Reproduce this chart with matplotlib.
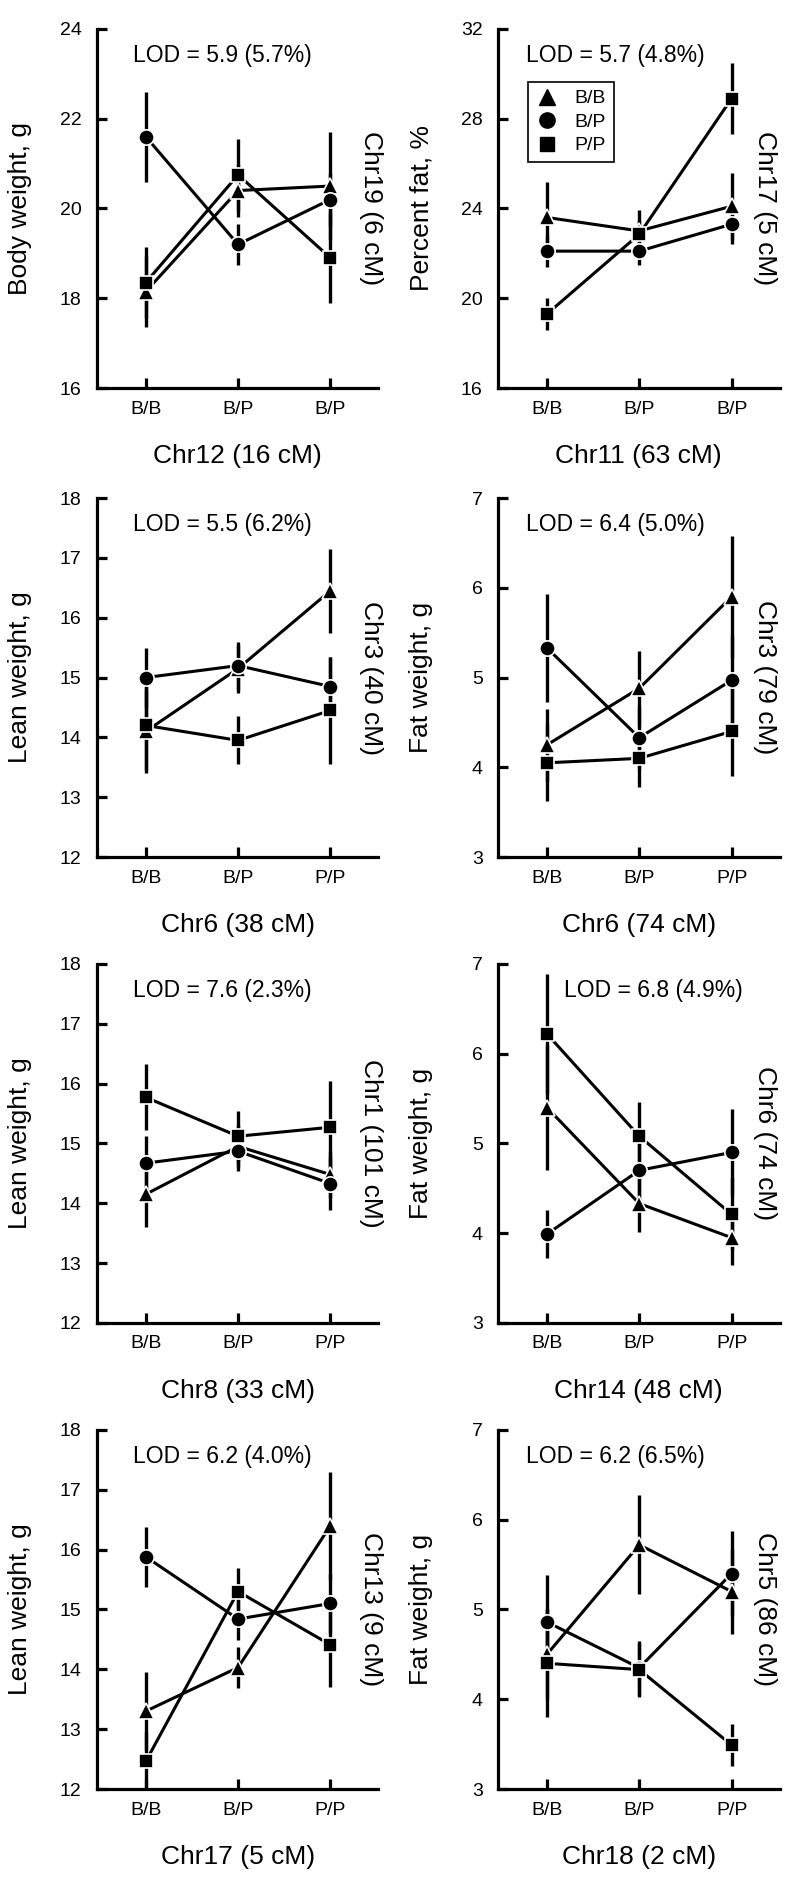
import matplotlib
matplotlib.use("Agg")
import matplotlib.pyplot as plt
from matplotlib.lines import Line2D

plt.rcParams['font.family'] = ['Liberation Sans', 'DejaVu Sans']

# genotype positions on the x axis
genotypes = [0, 1, 2]

# one entry per panel (left to right, top to bottom)
ylabels = ['Body weight, g', 'Percent fat, %', 'Lean weight, g', 'Fat weight, g',
           'Lean weight, g', 'Fat weight, g', 'Lean weight, g', 'Fat weight, g']
xlabels = ['Chr12 (16 cM)', 'Chr11 (63 cM)', 'Chr6 (38 cM)', 'Chr6 (74 cM)',
           'Chr8 (33 cM)', 'Chr14 (48 cM)', 'Chr17 (5 cM)', 'Chr18 (2 cM)']
right_labels = ['Chr19 (6 cM)', 'Chr17 (5 cM)', 'Chr3 (40 cM)', 'Chr3 (79 cM)',
                'Chr1 (101 cM)', 'Chr6 (74 cM)', 'Chr13 (9 cM)', 'Chr5 (86 cM)']
lod_texts = ['LOD = 5.9 (5.7%)', 'LOD = 5.7 (4.8%)', 'LOD = 5.5 (6.2%)', 'LOD = 6.4 (5.0%)',
             'LOD = 7.6 (2.3%)', 'LOD = 6.8 (4.9%)', 'LOD = 6.2 (4.0%)', 'LOD = 6.2 (6.5%)']
xticklabels = [['B/B', 'B/P', 'B/P'], ['B/B', 'B/P', 'B/P']] + [['B/B', 'B/P', 'P/P']] * 6
ylims = [(16, 24), (16, 32), (12, 18), (3, 7), (12, 18), (3, 7), (12, 18), (3, 7)]
ysteps = [2, 4, 1, 1, 1, 1, 1, 1]

# B/B (triangles)
tri_mean = [[18.15, 20.4, 20.5], [23.6, 23.0, 24.1], [14.1, 15.15, 16.45], [4.25, 4.88, 5.9],
            [14.15, 14.95, 14.48], [5.4, 4.33, 3.95], [13.3, 14.03, 16.4], [4.5, 5.72, 5.2]]
tri_err = [[0.8, 0.6, 1.2], [1.6, 0.5, 1.5], [0.7, 0.4, 0.7], [0.4, 0.42, 0.68],
           [0.55, 0.35, 0.4], [0.7, 0.32, 0.3], [0.65, 0.35, 0.9], [0.5, 0.55, 0.47]]
# B/P (circles)
cir_mean = [[21.6, 19.2, 20.2], [22.1, 22.1, 23.3], [15.0, 15.2, 14.85], [5.33, 4.33, 4.97],
            [14.67, 14.87, 14.33], [3.99, 4.7, 4.9], [15.88, 14.84, 15.1], [4.86, 4.35, 5.4]]
cir_err = [[1.0, 0.45, 0.6], [0.7, 0.6, 0.9], [0.5, 0.4, 0.5], [0.6, 0.35, 0.5],
           [0.45, 0.33, 0.45], [0.27, 0.35, 0.48], [0.5, 0.35, 0.5], [0.52, 0.3, 0.47]]
# P/P (squares)
sq_mean = [[18.35, 20.75, 18.9], [19.3, 22.85, 28.9], [14.2, 13.95, 14.45], [4.05, 4.1, 4.4],
           [15.77, 15.12, 15.27], [6.22, 5.08, 4.21], [12.46, 15.3, 14.41], [4.4, 4.33, 3.49]]
sq_err = [[0.8, 0.8, 1.0], [0.7, 1.1, 1.6], [0.75, 0.4, 0.9], [0.43, 0.32, 0.5],
          [0.55, 0.42, 0.77], [0.67, 0.38, 0.4], [0.5, 0.4, 0.7], [0.6, 0.3, 0.23]]

lod_x = [0.445, 0.418, 0.445, 0.418, 0.445, 0.55, 0.445, 0.418]
lefts = [0.121, 0.6225]
bottoms = [0.7936, 0.5441, 0.2963, 0.0484]

fig = plt.figure(figsize=(8, 18.8), dpi=100)

series = [(tri_mean, tri_err, '^', 12), (cir_mean, cir_err, 'o', 11), (sq_mean, sq_err, 's', 10.5)]

for i in range(8):
    ax = fig.add_axes([lefts[i % 2], bottoms[i // 2], 0.352, 0.191])
    for means, errs, mk, ms in series:
        ax.plot(genotypes, means[i], color='k', lw=2.2, zorder=2)
        ax.errorbar(genotypes, means[i], yerr=errs[i], fmt='none', ecolor='k',
                    elinewidth=2.4, capsize=0, zorder=2)
    for means, errs, mk, ms in series:
        ax.plot(genotypes, means[i], ls='none', marker=mk, ms=ms, color='k',
                mec='white', mew=1.2, zorder=3)

    lo, hi = ylims[i]
    ax.set_ylim(lo, hi)
    ax.set_yticks(range(lo, hi + 1, ysteps[i]))
    ax.set_xlim(-0.53, 2.52)
    ax.set_xticks(genotypes)
    ax.set_xticklabels(xticklabels[i])

    for s in ['top', 'right']:
        ax.spines[s].set_visible(False)
    for s in ['left', 'bottom']:
        ax.spines[s].set_linewidth(2.3)
    ax.tick_params(axis='y', direction='in', length=7, width=2.3, labelsize=14, pad=11)
    ax.tick_params(axis='x', direction='in', length=7, width=2.3, labelsize=14, pad=9)

    ax.set_ylabel(ylabels[i], fontsize=19)
    ax.yaxis.set_label_coords(-0.23, 0.5)
    ax.set_xlabel(xlabels[i], fontsize=19)
    ax.xaxis.set_label_coords(0.5, -0.155)

    ax.text(lod_x[i], 0.925, lod_texts[i], transform=ax.transAxes, fontsize=16.5,
            ha='center', va='center')
    rx = 0.975 if i % 2 == 0 else 0.947
    ax.text(rx, 0.5, right_labels[i], transform=ax.transAxes, fontsize=19,
            rotation=270, ha='center', va='center')

    if i == 1:
        handles = [Line2D([], [], ls='none', marker='^', ms=12, color='k'),
                   Line2D([], [], ls='none', marker='o', ms=11, color='k'),
                   Line2D([], [], ls='none', marker='s', ms=10.5, color='k')]
        leg = ax.legend(handles, ['B/B', 'B/P', 'P/P'], loc='upper left',
                        bbox_to_anchor=(0.106, 0.852), borderaxespad=0, fontsize=14,
                        fancybox=False, edgecolor='k', framealpha=1, handlelength=1.2,
                        handletextpad=0.8, labelspacing=0.3, borderpad=0.4)
        leg.get_frame().set_linewidth(1.2)

fig.savefig('out.png', dpi=100)
